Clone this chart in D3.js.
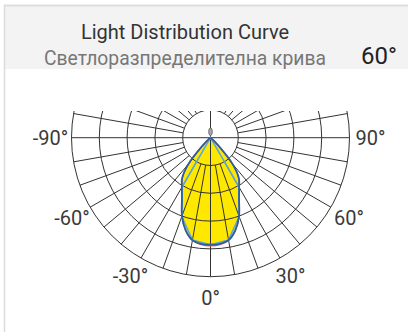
<!DOCTYPE html>
<html>
<head>
<meta charset="utf-8">
<script src="https://cdn.jsdelivr.net/npm/d3@7/dist/d3.min.js"></script>
<style>
  html, body { margin: 0; padding: 0; background: #ffffff; }
  svg { display: block; }
  text { font-family: Roboto, "Open Sans", sans-serif; }
</style>
</head>
<body>
<svg id="chart" width="408" height="332"></svg>
<script>
// Header texts
const titleText = "Light Distribution Curve";
const subtitleText = "Светлоразпределителна крива";
const beamText = "60°";

// Angle labels (degrees from nadir, 0° pointing down)
const angleLabels = [-90, -60, -30, 0, 30, 60, 90];

// Intensity rings (relative units)
const ringValues = [100, 200, 300, 400, 500];
const maxValue = 500;

// Main C-plane, symmetric, sampled every 5° from 0° to 90°
const mainAngles = [0, 5, 10, 15, 20, 25, 30, 35, 40, 45, 50, 55, 60, 65, 70, 75, 80, 85, 90];
const mainValues = [385, 383, 374, 345, 300, 243, 206, 178, 124, 40, 12, 4, 1, 0, 0, 0, 0, 0, 0];

// Second C-plane, sampled every 10°
const secondAngles = [0, 10, 20, 30, 40, 50, 60, 70, 80, 90];
const secondValues = [385, 374, 302, 203, 0, 0, 0, 0, 0, 0];

// Third C-plane, nearly identical to the main one
const thirdAngles = [0, 5, 10, 15, 20, 25, 30, 35, 40, 45, 50, 55, 60, 65, 70, 75, 80, 85, 90];
const thirdValues = [389, 386, 376, 346, 301, 244, 206, 176, 120, 38, 11, 3, 0, 0, 0, 0, 0, 0, 0];

const W = 408, H = 332;
const cx = 210.5, cy = 137.7, R = 139;

const svg = d3.select("#chart");

// Card frame and header band
svg.append("rect").attr("x", 4).attr("y", 6).attr("width", W - 4).attr("height", 63)
  .attr("fill", "#f3f3f3");
svg.append("line").attr("x1", 4).attr("x2", W).attr("y1", 5.5).attr("y2", 5.5)
  .attr("stroke", "#dedede").attr("stroke-width", 2);
svg.append("line").attr("x1", 4.5).attr("x2", 4.5).attr("y1", 5).attr("y2", H)
  .attr("stroke", "#dcdcdc").attr("stroke-width", 1.5);

svg.append("text").attr("x", 185).attr("y", 39).attr("text-anchor", "middle")
  .attr("font-size", 20).attr("fill", "#333").text(titleText);
svg.append("text").attr("x", 185).attr("y", 65).attr("text-anchor", "middle")
  .attr("font-size", 19.3).attr("fill", "#777").text(subtitleText);
svg.append("text").attr("x", 379).attr("y", 64).attr("text-anchor", "middle")
  .attr("font-family", "'DejaVu Sans', sans-serif")
  .attr("font-size", 24).attr("fill", "#222").text(beamText);

const r = d3.scaleLinear().domain([0, maxValue]).range([0, R]);
const innerR = r(ringValues[0]);

const g = svg.append("g").attr("transform", `translate(${cx},${cy})`);

// Mirror a half-plane into a full -90..90 curve
function fullCurve(angles, values) {
  const pts = [];
  for (let i = angles.length - 1; i > 0; i--) pts.push([-angles[i], values[i]]);
  for (let i = 0; i < angles.length; i++) pts.push([angles[i], values[i]]);
  return pts;
}
const toRad = d => (180 - d) * Math.PI / 180;

const smoothLine = d3.lineRadial()
  .angle(d => toRad(d[0])).radius(d => r(d[1]))
  .curve(d3.curveCatmullRomClosed.alpha(0.5));
const straightLine = d3.lineRadial()
  .angle(d => toRad(d[0])).radius(d => r(d[1]))
  .curve(d3.curveLinearClosed);

const mainPts = fullCurve(mainAngles, mainValues);
const secondPts = fullCurve(secondAngles, secondValues);
const thirdPts = fullCurve(thirdAngles, thirdValues);

// Yellow light body
g.append("path").attr("d", smoothLine(mainPts)).attr("fill", "#ffe800").attr("stroke", "none");

// Polar grid, clipped just above the inner ring
svg.append("clipPath").attr("id", "gridClip")
  .append("rect").attr("x", -R - 5).attr("y", -innerR + 1.2).attr("width", 2 * R + 10).attr("height", R + innerR + 5);
const grid = g.append("g").attr("clip-path", "url(#gridClip)")
  .attr("stroke", "#333").attr("stroke-width", 1).attr("fill", "none");

ringValues.forEach(v => grid.append("circle").attr("r", r(v)));

const spokeAngles = d3.range(-180, 180, 10);
spokeAngles.forEach(a => {
  const rad = a * Math.PI / 180;
  const through = (a % 90 === 0);
  const r0 = through ? 0 : innerR;
  grid.append("line")
    .attr("x1", r0 * Math.sin(rad)).attr("y1", r0 * Math.cos(rad))
    .attr("x2", R * Math.sin(rad)).attr("y2", R * Math.cos(rad));
});

// Zero marker at the pole
g.append("ellipse").attr("cx", 0).attr("cy", -6).attr("rx", 1.8).attr("ry", 3.8)
  .attr("fill", "#aaa").attr("stroke", "#555").attr("stroke-width", 0.8);

// Curves
g.append("path").attr("d", smoothLine(thirdPts)).attr("fill", "none")
  .attr("stroke", "#d9534f").attr("stroke-width", 1.2);
g.append("path").attr("d", straightLine(secondPts)).attr("fill", "none")
  .attr("stroke", "#5aa9dc").attr("stroke-width", 1.6);
g.append("path").attr("d", smoothLine(mainPts)).attr("fill", "none")
  .attr("stroke", "#2f5d9e").attr("stroke-width", 1.8);

// Angle labels
const labelR = 160;
angleLabels.forEach(a => {
  const rad = a * Math.PI / 180;
  g.append("text")
    .attr("x", labelR * Math.sin(rad))
    .attr("y", labelR * Math.cos(rad))
    .attr("dy", "0.36em")
    .attr("text-anchor", "middle")
    .attr("font-family", "'DejaVu Sans', sans-serif")
    .attr("font-size", 20)
    .attr("fill", "#3a3a3a")
    .text(a + "°");
});
</script>
</body>
</html>
